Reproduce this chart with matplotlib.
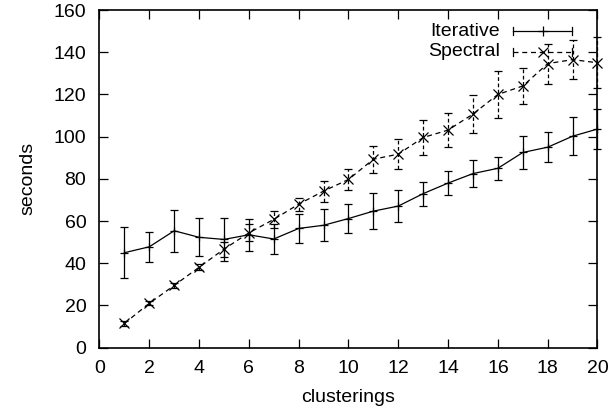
import numpy as np
import matplotlib
matplotlib.use('Agg')
import matplotlib.pyplot as plt
from matplotlib.lines import Line2D

plt.rcParams['font.family'] = ['Liberation Sans', 'DejaVu Sans']
plt.rcParams['font.size'] = 14

# clusterings vs time (seconds)
clusterings = np.arange(1, 21)
iterative = [45.0, 47.8, 55.4, 52.3, 51.3, 53.5, 51.5, 56.5, 58.0, 61.2,
             64.7, 67.1, 73.0, 78.0, 82.5, 85.0, 92.5, 95.0, 100.2, 103.6]
iterative_err = [12.0, 7.0, 10.0, 9.0, 10.0, 7.5, 7.0, 7.0, 7.5, 6.7,
                 8.5, 7.5, 5.7, 5.5, 6.5, 5.5, 8.0, 7.0, 9.0, 9.4]
spectral = [11.5, 21.0, 29.5, 38.1, 46.7, 54.4, 60.8, 68.0, 74.2, 79.7,
            89.3, 91.7, 99.6, 103.1, 110.7, 120.0, 124.0, 134.6, 136.5, 135.0]
spectral_err = [1.0, 1.0, 1.0, 1.5, 3.5, 4.0, 4.0, 3.0, 5.0, 5.0,
                6.5, 7.0, 8.5, 8.0, 8.8, 11.0, 8.5, 9.5, 9.3, 12.0]

fig = plt.figure(figsize=(6.11, 4.17), dpi=100)
ax = fig.add_axes([0.1628, 0.1662, 0.8151, 0.8098])

eb1 = ax.errorbar(clusterings, iterative, yerr=iterative_err, color='black',
                  lw=0.9, elinewidth=0.9, capsize=2.6, capthick=0.9,
                  marker='+', ms=6, mew=0.9, clip_on=False)
eb2 = ax.errorbar(clusterings, spectral, yerr=spectral_err, color='black',
                  lw=0.9, elinewidth=0.9, capsize=2.6, capthick=0.9,
                  marker='x', ms=6.5, mew=0.9, ls=(0, (4, 3)), clip_on=False)
eb2[2][0].set_linestyle((0, (3, 2)))

ax.set_xlim(0, 20)
ax.set_ylim(0, 160)
ax.set_xticks(range(0, 21, 2))
ax.set_yticks(range(0, 161, 20))
ax.tick_params(direction='in', length=6.5, width=0.9, top=True, right=True)
ax.tick_params(axis='x', pad=8.5)
ax.tick_params(axis='y', pad=9.5)
for s in ax.spines.values():
    s.set_linewidth(1.2)
ax.set_xlabel('clusterings', labelpad=9)
ax.set_ylabel('seconds', labelpad=12)

# gnuplot-style key in the upper right
tr = ax.transAxes
keys = [('Iterative', '-', '+', 0.937), ('Spectral', (0, (4, 3)), 'x', 0.876)]
x0, x1 = 0.8303, 0.9494
for label, ls, mk, yy in keys:
    ax.text(0.8042, yy, label, transform=tr, ha='right', va='center')
    ax.add_line(Line2D([x0, x1], [yy, yy], transform=tr, color='black', lw=0.9, ls=ls))
    for xe in (x0, x1):
        ax.add_line(Line2D([xe, xe], [yy - 0.012, yy + 0.012], transform=tr,
                           color='black', lw=0.9))
    ax.add_line(Line2D([(x0 + x1) / 2], [yy], transform=tr, color='black',
                       marker=mk, ms=6.5, mew=0.9, ls='none'))

fig.savefig('out.png', dpi=100)
